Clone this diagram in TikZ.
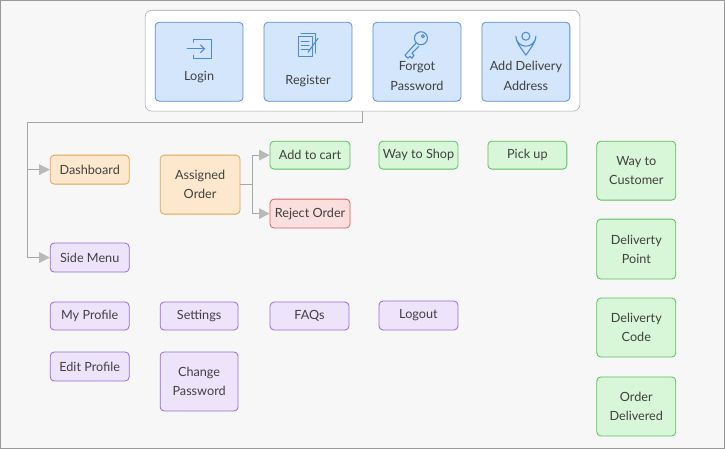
\documentclass[tikz,border=0pt]{standalone}
\usepackage{fontspec}
\setmainfont{Lato}
\usetikzlibrary{arrows.meta,calc}
\definecolor{bfill}{HTML}{D4E6FB}\definecolor{bdraw}{HTML}{5B8ED6}
\definecolor{gfill}{HTML}{D8F6D8}\definecolor{gdraw}{HTML}{5CBF5C}
\definecolor{rfill}{HTML}{FBDEDE}\definecolor{rdraw}{HTML}{DD6060}
\definecolor{pfill}{HTML}{EDE4FB}\definecolor{pdraw}{HTML}{9A6AD6}
\definecolor{ofill}{HTML}{FDE8CD}\definecolor{odraw}{HTML}{E0A452}
\definecolor{ico}{HTML}{4A8AD8}
\begin{document}
\begin{tikzpicture}[x=0.75pt,y=-0.75pt,
 box/.style={rounded corners=3pt,draw,line width=0.6pt,align=center,inner sep=1pt,
   font=\fontsize{9.5}{14.5}\selectfont,text=black!75},
 bx/.style={box,fill=bfill,draw=bdraw},
 gx/.style={box,fill=gfill,draw=gdraw},
 rx/.style={box,fill=rfill,draw=rdraw},
 px/.style={box,fill=pfill,draw=pdraw},
 ox/.style={box,fill=ofill,draw=odraw},
 sz/.style 2 args={minimum width=#1*0.75pt,minimum height=#2*0.75pt},
 arr/.style={draw=gray!70,line width=0.6pt,-{Triangle[width=8pt,length=8pt,color=gray!55]}},
 tip/.style={draw=none},
 icn/.style={draw=ico,line width=0.8pt,line cap=round,line join=round}]
\fill[black!3,draw=black!40] (0,0) rectangle (725,448);
\useasboundingbox (0,0) rectangle (725,448);
\node[rounded corners=5pt,draw=black!35,fill=white,sz={435}{101}] (top) at (362.5,60.5) {};
\node[bx,sz={88}{79}] (login) at (199,61.5) {\\[16pt]Login};
\node[bx,sz={88}{79}] (reg) at (308,61.5) {\\[22pt]Register};
\node[bx,sz={88}{79}] (forgot) at (417,61.5) {\\[14pt]Forgot\\Password};
\node[bx,sz={88}{79}] (addr) at (526,61.5) {\\[14pt]Add Delivery\\Address};
% icons
\draw[icn] (193,42) -- (193,39) -- (211,39) -- (211,58) -- (193,58) -- (193,55);
\draw[icn,-{Straight Barb[length=3pt,width=6pt]}] (187,48.5) -- (205,48.5);
\draw[icn] (298,36) rectangle (312,56); \draw[icn] (301,33) -- (315,33) -- (315,53);
\foreach \yy in {41,45,49} \draw[icn] (301,\yy) -- (309,\yy);
\draw[icn] (318,38) -- (308,52);
\draw[icn] (421,38) circle (6.5);\draw[icn] (423,36) circle (1.5);
\draw[icn] (416,43) -- (405,55) -- (408,58) -- (410,56) -- (412,58) -- (414,55) -- (412,53) -- (419,46);
\draw[icn] (526,55) .. controls (519,45) and (516,41) .. (516,36) arc (180:0:10) .. controls (536,41) and (533,45) .. (526,55);
\draw[icn] (526,36) circle (4);
% flow nodes
\node[ox,sz={79}{29}] (dash) at (89.5,169.5) {Dashboard};
\node[ox,sz={80}{59}] (assign) at (200,184.5) {Assigned\\Order};
\node[gx,sz={80}{28}] (cart) at (310,155) {Add to cart};
\node[rx,sz={80}{29}] (reject) at (310,213.5) {Reject Order};
\node[gx,sz={79}{28}] (shop) at (418.5,155) {Way to Shop};
\node[gx,sz={79}{28}] (pick) at (527.5,155) {Pick up};
\node[gx,sz={79}{59}] (cust) at (636.5,170.5) {Way to\\Customer};
\node[gx,sz={79}{60}] (dpoint) at (636.5,249) {Deliverty\\Point};
\node[gx,sz={79}{59}] (dcode) at (636.5,327.5) {Deliverty\\Code};
\node[gx,sz={79}{59}] (deliv) at (636.5,406.5) {Order\\Delivered};
\node[px,sz={79}{29}] (side) at (89.5,257.5) {Side Menu};
\node[px,sz={79}{28}] (prof) at (89.5,316) {My Profile};
\node[px,sz={79}{29}] (edit) at (89.5,366.5) {Edit Profile};
\node[px,sz={78}{28}] (set) at (199,316) {Settings};
\node[px,sz={78}{59}] (chg) at (199,381.5) {Change\\Password};
\node[px,sz={79}{28}] (faq) at (309.5,316) {FAQs};
\node[px,sz={79}{29}] (out) at (418.5,315.5) {Logout};
% connectors
\coordinate (c1) at (362,122);
\coordinate (c2) at (27,122);
\draw[draw=gray!70,line width=0.6pt] (top.south -| c1) -- (c1) -- (c2) -- (c2 |- side.west);
\draw[arr] (c2 |- dash.west) -- (dash.west);
\draw[arr] (c2 |- side.west) -- (side.west);
\coordinate (c3) at (252,184.5);
\draw[draw=gray!70,line width=0.6pt] (assign.east) -- (c3);
\draw[arr] (c3) |- (cart.west);
\draw[arr] (c3) |- (reject.west);
\foreach \a/\b in {dash/assign,cart/shop,shop/pick,prof/set,set/faq,faq/out}
  \draw[arr,tip] ($(\a.east)!0.3!(\b.west |- \a.east)$) -- ($(\a.east)!0.7!(\b.west |- \a.east)$);
\draw[arr,tip] ($(pick.east)!0.3!(cust.west |- pick.east)$) -- ($(pick.east)!0.7!(cust.west |- pick.east)$);
\foreach \a/\b in {cust/dpoint,dpoint/dcode,dcode/deliv,side/prof,prof/edit,set/chg}
  \draw[arr,tip] ($(\a.south)!0.25!(\b.north)$) -- ($(\a.south)!0.75!(\b.north)$);
\end{tikzpicture}
\end{document}
